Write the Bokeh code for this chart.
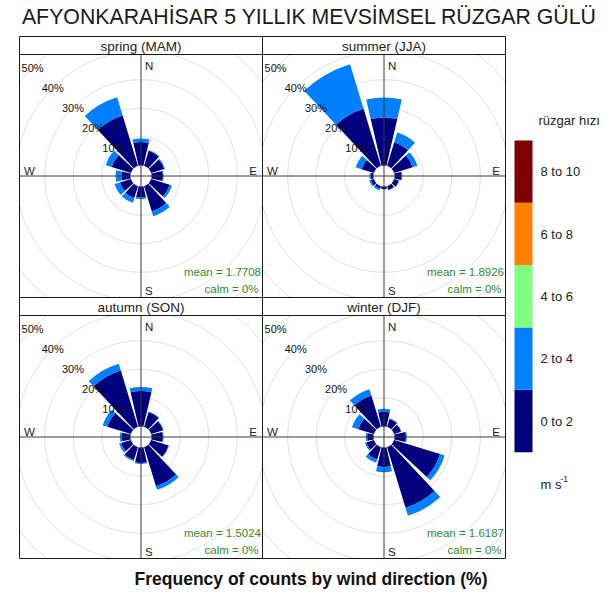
import numpy as np
from bokeh.plotting import figure
from bokeh.models import Range1d, ColumnDataSource
from bokeh.embed import file_html
from bokeh.resources import INLINE
from bokeh.core.properties import value

# ---------------- data ----------------
title_text = "AFYONKARAHİSAR 5 YILLIK MEVSİMSEL RÜZGAR GÜLÜ"
x_label = "Frequency of counts by wind direction (%)"
legend_title = "rüzgar hızı"
legend_unit = "m s"
legend_unit_sup = "-1"

directions = [0, 30, 60, 90, 120, 150, 180, 210, 240, 270, 300, 330]
speed_bins = ["0 to 2", "2 to 4", "4 to 6", "6 to 8", "8 to 10"]
bin_colors = ["#00007F", "#007FFF", "#7FFF7F", "#FF7F00", "#7F0000"]

seasons = ["spring (MAM)", "summer (JJA)", "autumn (SON)", "winter (DJF)"]
mean_speed = ["1.7708", "1.8926", "1.5024", "1.6187"]
calm_pct = ["0%", "0%", "0%", "0%"]

# frequency (%) per direction, speed class 0-2 and 2-4 m/s
spring_0_2 = [8.2, 5.5, 4.8, 4.0, 6.8, 9.2, 3.8, 4.3, 4.0, 3.2, 7.0, 18.4]
spring_2_4 = [1.2, 0.3, 0.3, 0.2, 0.8, 1.8, 0.6, 1.8, 2.0, 2.0, 2.2, 6.7]
summer_0_2 = [16.8, 8.6, 6.8, 2.4, 1.7, 1.4, 0.9, 0.9, 1.2, 1.0, 4.5, 20.9]
summer_2_4 = [7.0, 3.6, 1.7, 0.3, 0.2, 0.2, 0.1, 0.7, 0.5, 0.4, 2.2, 16.3]
autumn_0_2 = [12.4, 5.4, 4.4, 4.0, 6.4, 14.3, 5.4, 4.7, 3.6, 3.0, 8.6, 20.6]
autumn_2_4 = [1.4, 0.2, 0.2, 0.2, 0.2, 1.3, 0.3, 0.4, 0.7, 0.7, 1.7, 2.5]
winter_0_2 = [5.1, 2.9, 2.5, 4.0, 16.8, 22.2, 6.8, 4.5, 2.8, 2.2, 5.7, 11.5]
winter_2_4 = [1.1, 0.2, 0.2, 0.3, 1.7, 2.9, 1.8, 1.2, 0.5, 0.5, 2.3, 2.3]

season_bands = [
    [spring_0_2, spring_2_4],
    [summer_0_2, summer_2_4],
    [autumn_0_2, autumn_2_4],
    [winter_0_2, winter_2_4],
]

grid_step = 10
grid_labels = ["10%", "20%", "30%", "40%", "50%"]

# ---------------- layout (pixels) ----------------
FIG_W, FIG_H = 613, 599
PAGE = 0.0
PANEL = 243.0
STRIP = 18.0
LEFT = 19.0
TOP = 36.0
HALF_GAP = 1.9          # degrees of white gap on each side of a sector
FONT = "Liberation Sans"

totals = [np.sum(b, axis=0) for b in season_bands]
max_freq = float(max(t.max() for t in totals))
off_set = 0.1 * max_freq
half_units = (max_freq + off_set) * 1.04
k = (PANEL / 2.0) / half_units      # pixels per data unit


def ux(px):
    return (px - PAGE) / k


def uy(py):
    return -(py - PAGE) / k


p = figure(width=FIG_W, height=FIG_H, output_backend="svg", toolbar_location=None,
           x_range=Range1d(0, FIG_W / k), y_range=Range1d(-FIG_H / k, 0),
           x_axis_type=None, y_axis_type=None, min_border=0,
           min_border_left=0, min_border_right=0, min_border_top=0, min_border_bottom=0)
p.outline_line_color = None
p.background_fill_color = "white"
p.border_fill_color = "white"

panel_boxes = []
for r in range(2):
    for c in range(2):
        x0 = LEFT + c * PANEL
        sy0 = TOP + r * (STRIP + PANEL)
        py0 = sy0 + STRIP
        panel_boxes.append((x0, sy0, py0))

wedge = dict(x=[], y=[], ir=[], orr=[], sa=[], ea=[], color=[])
half = np.radians(30 / 2.0 - HALF_GAP)

for idx, (x0, sy0, py0) in enumerate(panel_boxes):
    cx = ux(x0 + PANEL / 2.0)
    cy = uy(py0 + PANEL / 2.0)
    xl, xr = ux(x0), ux(x0 + PANEL)
    yb, yt = uy(py0 + PANEL), uy(py0)

    # grid circles clipped to the panel
    theta = np.radians(np.arange(0, 360.25, 0.25))
    for i in range(0, 8):
        rad = off_set + i * grid_step
        xs = cx + rad * np.sin(theta)
        ys = cy + rad * np.cos(theta)
        inside = (xs >= xl) & (xs <= xr) & (ys >= yb) & (ys <= yt)
        seg_x, seg_y = [], []
        cur_x, cur_y = [], []
        for xx, yy, ok in zip(xs, ys, inside):
            if ok:
                cur_x.append(xx)
                cur_y.append(yy)
            elif cur_x:
                seg_x.append(cur_x)
                seg_y.append(cur_y)
                cur_x, cur_y = [], []
        if cur_x:
            seg_x.append(cur_x)
            seg_y.append(cur_y)
        if seg_x:
            p.multi_line(xs=seg_x, ys=seg_y, line_color="#D9D9D9", line_width=1)

    # wedges
    bands = season_bands[idx]
    cum = np.zeros(len(directions))
    for b, vals in enumerate(bands):
        for j, d in enumerate(directions):
            v = vals[j]
            if v <= 0:
                continue
            ang = np.radians(90 - d)
            wedge["x"].append(cx)
            wedge["y"].append(cy)
            wedge["ir"].append(off_set + cum[j])
            wedge["orr"].append(off_set + cum[j] + v)
            wedge["sa"].append(ang - half)
            wedge["ea"].append(ang + half)
            wedge["color"].append(bin_colors[b])
        cum = cum + np.array(vals)

src = ColumnDataSource(wedge)
p.annular_wedge(x="x", y="y", inner_radius="ir", outer_radius="orr",
                start_angle="sa", end_angle="ea", fill_color="color",
                line_color=None, source=src)

for idx, (x0, sy0, py0) in enumerate(panel_boxes):
    cx = ux(x0 + PANEL / 2.0)
    cy = uy(py0 + PANEL / 2.0)
    xl, xr = ux(x0), ux(x0 + PANEL)
    yb, yt = uy(py0 + PANEL), uy(py0)
    # cross lines
    p.segment(x0=[xl, cx], y0=[cy, yb], x1=[xr, cx], y1=[cy, yt],
              line_color="#3A3A3A", line_width=1)
    # percentage labels at NW
    rads = [off_set + grid_step * (i + 1) for i in range(len(grid_labels))]
    p.text(x=[cx - r * np.sin(np.pi / 4) for r in rads],
           y=[cy + r * np.cos(np.pi / 4) for r in rads],
           text=grid_labels, text_font=value(FONT), text_font_size="11px",
           text_align="center", text_baseline="middle", text_color="#111111")
    # compass letters
    pcx = x0 + PANEL / 2.0
    pcy = py0 + PANEL / 2.0
    p.text(x=[ux(pcx + 4), ux(pcx + 4)], y=[uy(pcy - 110), uy(pcy + 114.5)],
           text=["N", "S"], text_font=value(FONT), text_font_size="11.5px",
           text_align="left", text_baseline="middle", text_color="#222222")
    p.text(x=[ux(pcx + 116)], y=[uy(pcy - 5.5)], text=["E"], text_font=value(FONT),
           text_font_size="11.5px", text_align="right", text_baseline="middle",
           text_color="#222222")
    p.text(x=[ux(pcx - 117)], y=[uy(pcy - 5.5)], text=["W"], text_font=value(FONT),
           text_font_size="11.5px", text_align="left", text_baseline="middle",
           text_color="#222222")
    # mean / calm annotation
    p.text(x=[ux(pcx + 120), ux(pcx + 117.5)], y=[uy(pcy + 96), uy(pcy + 113)],
           text=["mean = " + mean_speed[idx], "calm = " + calm_pct[idx]],
           text_font=value(FONT), text_font_size="11.5px", text_align="right",
           text_baseline="middle", text_color="#2E8B2E")
    # strip label
    p.text(x=[ux(pcx)], y=[uy(sy0 + STRIP / 2.0 + 0.5)], text=[seasons[idx]],
           text_font=value(FONT), text_font_size="13.5px", text_align="center",
           text_baseline="middle", text_color="#222222")

# frames
frame_l, frame_r = ux(LEFT), ux(LEFT + 2 * PANEL)
frame_t, frame_b = uy(TOP), uy(TOP + 2 * (STRIP + PANEL))
hl = [TOP + STRIP, TOP + STRIP + PANEL, TOP + 2 * STRIP + PANEL]
p.segment(x0=[frame_l] * 3, x1=[frame_r] * 3, y0=[uy(h) for h in hl], y1=[uy(h) for h in hl],
          line_color="#1A1A1A", line_width=1)
p.segment(x0=[ux(LEFT + PANEL)], x1=[ux(LEFT + PANEL)], y0=[frame_t], y1=[frame_b],
          line_color="#1A1A1A", line_width=1)
p.quad(left=[frame_l], right=[frame_r], top=[frame_t], bottom=[frame_b],
       fill_color=None, line_color="#1A1A1A", line_width=1)

# title and axis label
p.text(x=[ux(309)], y=[uy(16.5)], text=[title_text], text_font=value(FONT),
       text_font_size="21.3px", text_align="center", text_baseline="middle",
       text_color="#1A1A1A")
p.text(x=[ux(310.5)], y=[uy(578)], text=[x_label], text_font=value(FONT),
       text_font_size="17.5px", text_font_style="bold", text_align="center",
       text_baseline="middle", text_color="#111111")

# legend colour key
KEY_L, KEY_R, KEY_T, KEY_B = 514.0, 532.0, 140.0, 451.7
n = len(speed_bins)
seg_h = (KEY_B - KEY_T) / n
tops = [uy(KEY_B - (i + 1) * seg_h) for i in range(n)]
bots = [uy(KEY_B - i * seg_h) for i in range(n)]
p.quad(left=[ux(KEY_L)] * n, right=[ux(KEY_R)] * n, top=tops, bottom=bots,
       fill_color=bin_colors, line_color=None)
p.text(x=[ux(540)] * n, y=[uy(KEY_B - (i + 0.5) * seg_h) for i in range(n)],
       text=speed_bins, text_font=value(FONT), text_font_size="13px",
       text_align="left", text_baseline="middle", text_color="#222222")
p.text(x=[ux(538)], y=[uy(120)], text=[legend_title], text_font=value(FONT),
       text_font_size="13px", text_align="left", text_baseline="middle",
       text_color="#222222")
p.text(x=[ux(540)], y=[uy(484)], text=[legend_unit], text_font=value(FONT),
       text_font_size="13px", text_align="left", text_baseline="middle",
       text_color="#222222")
p.text(x=[ux(560)], y=[uy(478)], text=[legend_unit_sup], text_font=value(FONT),
       text_font_size="8.5px", text_align="left", text_baseline="middle",
       text_color="#222222")

open("out.html", "w").write(file_html(p, INLINE))
